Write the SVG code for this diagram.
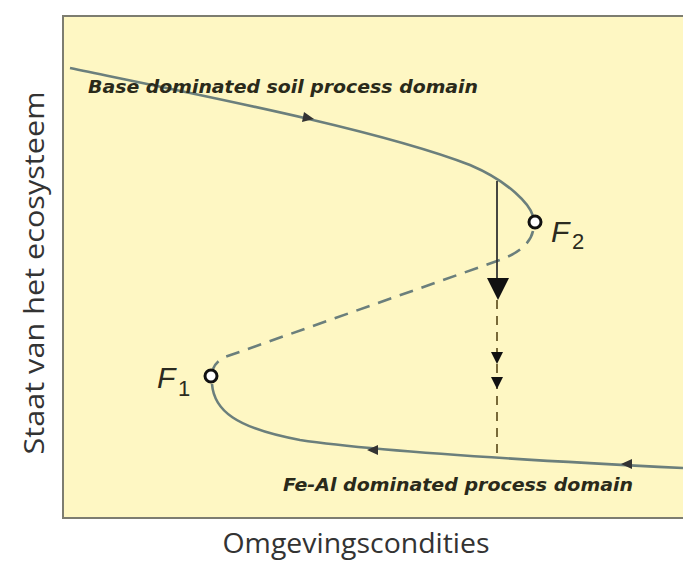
<svg xmlns="http://www.w3.org/2000/svg" width="683" height="564" viewBox="0 0 683 564">
<style>
.curve{fill:none;stroke:#6b7f7c;stroke-width:2.6}
.dash{stroke-dasharray:14 9}
.lbl{font-family:"DejaVu Sans","Liberation Sans",sans-serif;font-style:italic;font-weight:bold;font-size:18px;fill:#2a2a1a}
.axis{font-family:"Open Sans","Liberation Sans",sans-serif;font-size:28px;fill:#333}
.fl{font-family:"Liberation Sans",Arial,sans-serif;font-style:italic;font-size:30px;fill:#2b2b20}
.fs{font-family:"Liberation Sans",Arial,sans-serif;font-size:22px;fill:#2b2b20}
.pt{fill:#fff;stroke:#111;stroke-width:3}
.ah{fill:#333}
</style>
<rect x="0" y="0" width="683" height="564" fill="#fff"/>
<rect id="frame" x="63" y="16" width="625" height="502" fill="#fef7c3" stroke="#7d7d70" stroke-width="2"/>
<g id="connectors">
<path id="upper" class="curve" d="M70,68 C200,95 380,130 470,165 C510,182 530,205 533,216"/>
<path id="middle" class="curve dash" d="M533,231 C530,245 515,255 497,261 L225,357 C219,360 215,364 213,369"/>
<path id="lower" class="curve" d="M212,384 C214,410 235,428 300,440 C380,452 560,462 683,468"/>
<polygon class="ah" points="314,119 302,122 304,112"/>
<polygon class="ah" points="367,450 378,445 378,455"/>
<polygon class="ah" points="621,464 632,459 632,469"/>
<line x1="497" y1="181" x2="497" y2="282" stroke="#333" stroke-width="1.8"/>
<polygon points="487,278 509,278 498,300" fill="#111"/>
<line x1="497" y1="300" x2="497" y2="459" stroke="#6a5a2a" stroke-width="1.8" stroke-dasharray="9 7"/>
<polygon points="491,352 503,352 497,364" fill="#111"/>
<polygon points="491,377 503,377 497,389" fill="#111"/>
</g>
<g id="F2"><circle class="pt" cx="535" cy="222" r="6"/><text class="fl" x="551" y="242">F</text><text class="fs" x="572" y="249">2</text></g>
<g id="F1"><circle class="pt" cx="211" cy="376" r="6"/><text class="fl" x="157" y="388">F</text><text class="fs" x="178" y="396">1</text></g>
<g id="labels">
<text class="lbl" x="88" y="93" textLength="390" lengthAdjust="spacingAndGlyphs">Base dominated soil process domain</text>
<text class="lbl" x="283" y="491" textLength="350" lengthAdjust="spacingAndGlyphs">Fe-Al dominated process domain</text>
<text class="axis" x="356" y="553" text-anchor="middle" textLength="267" lengthAdjust="spacingAndGlyphs">Omgevingscondities</text>
<text class="axis" transform="translate(44,273) rotate(-90)" text-anchor="middle" font-size="29" textLength="363" lengthAdjust="spacingAndGlyphs">Staat van het ecosysteem</text>
</g>
</svg>
